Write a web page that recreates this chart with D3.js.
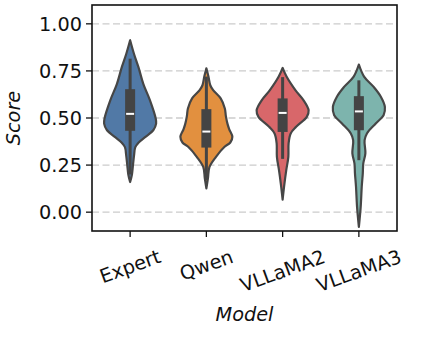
<!DOCTYPE html>
<html><head><meta charset="utf-8">
<script src="https://cdn.jsdelivr.net/npm/d3@7"></script>
<style>body{margin:0;background:#fff}svg{display:block;font-family:"DejaVu Sans",sans-serif}</style>
</head><body><svg id="c" width="421" height="342"></svg>
<script>
const categories = ["Expert","Qwen","VLLaMA2","VLLaMA3"];
const colors = ["#5179a6","#e2903f","#d8676a","#7db4ad"];
const yTicks = [0, 0.25, 0.5, 0.75, 1.0];
// violin outlines: score levels and half-width (density, relative 0..1)
const expertLevels = [0.16,0.2,0.25,0.30,0.345,0.37,0.40,0.435,0.47,0.50,0.595,0.68,0.77,0.84,0.913];
const expertDensity = [0,0.07,0.11,0.15,0.2,0.33,0.59,0.89,1.0,0.98,0.76,0.51,0.32,0.15,0];
const qwenLevels = [0.126,0.18,0.24,0.294,0.347,0.37,0.40,0.44,0.47,0.51,0.55,0.604,0.648,0.674,0.72,0.764];
const qwenDensity = [0,0.06,0.12,0.37,0.7,0.92,1.0,0.88,0.81,0.75,0.71,0.55,0.26,0.15,0.08,0];
const llama2Levels = [0.067,0.152,0.223,0.294,0.365,0.418,0.453,0.506,0.54,0.595,0.648,0.72,0.766];
const llama2Density = [0,0.07,0.14,0.22,0.23,0.31,0.52,0.93,1.0,0.8,0.49,0.15,0];
const llama3Levels = [-0.078,0.028,0.134,0.205,0.259,0.312,0.382,0.418,0.471,0.515,0.559,0.612,0.665,0.72,0.784];
const llama3Density = [0,0.07,0.11,0.15,0.17,0.25,0.22,0.31,0.65,0.95,1.0,0.85,0.57,0.2,0];
// box stats: [whiskerLow, q1, median, q3, whiskerHigh]
const expertBox = [0.2,0.432,0.522,0.653,0.815];
const qwenBox = [0.17,0.343,0.428,0.547,0.72];
const llama2Box = [0.283,0.426,0.527,0.604,0.717];
const llama3Box = [0.276,0.435,0.535,0.616,0.70];

const levels = [expertLevels,qwenLevels,llama2Levels,llama3Levels];
const dens = [expertDensity,qwenDensity,llama2Density,llama3Density];
const boxes = [expertBox,qwenBox,llama2Box,llama3Box];

const svg = d3.select("#c");
const L=92,R=397,T=5,B=231;
const x = d3.scaleBand().domain(categories).range([L,R]);
const y = d3.scaleLinear().domain([-0.1,1.1]).range([B,T]);
const w = d3.scaleLinear().domain([0,1]).range([0,26.0]);
const FS=19.3;

// grid
svg.append("g").selectAll("line").data(yTicks).join("line")
 .attr("x1",L).attr("x2",R).attr("y1",d=>y(d)).attr("y2",d=>y(d))
 .attr("stroke","#cccccc").attr("stroke-width",1.4).attr("stroke-dasharray","7,3.5");

// violins
categories.forEach((c,i)=>{
  const cx = x(c)+x.bandwidth()/2;
  const pts = levels[i].map((v,j)=>({v, d:dens[i][j]}));
  const area = d3.area().y(p=>y(p.v)).x0(p=>cx-w(p.d)).x1(p=>cx+w(p.d)).curve(d3.curveCatmullRom.alpha(0.5));
  svg.append("path").attr("d",area(pts)).attr("fill",colors[i]).attr("stroke","#464646").attr("stroke-width",2.2).attr("stroke-linejoin","round");
  const b = boxes[i];
  svg.append("line").attr("x1",cx).attr("x2",cx).attr("y1",y(b[0])).attr("y2",y(b[4])).attr("stroke","#444444").attr("stroke-width",3);
  svg.append("rect").attr("x",cx-5).attr("width",10).attr("y",y(b[3])).attr("height",y(b[1])-y(b[3])).attr("fill","#444444");
  svg.append("rect").attr("x",cx-4).attr("width",8).attr("y",y(b[2])-1).attr("height",2).attr("fill","#ffffff");
});

// frame
svg.append("rect").attr("x",L).attr("y",T).attr("width",R-L).attr("height",B-T).attr("fill","none").attr("stroke","#111").attr("stroke-width",1.6);

// y axis
const ya = svg.append("g");
yTicks.forEach(t=>{
  ya.append("line").attr("x1",L-6).attr("x2",L).attr("y1",y(t)).attr("y2",y(t)).attr("stroke","#111").attr("stroke-width",1.3);
  ya.append("text").attr("x",L-10).attr("y",y(t)).attr("dy","0.36em").attr("text-anchor","end").attr("font-size",FS).attr("fill","#111").text(t.toFixed(2));
});
svg.append("text").attr("transform",`translate(20,${(T+B)/2}) rotate(-90)`).attr("text-anchor","middle").attr("font-size",FS).attr("font-style","italic").attr("fill","#111").text("Score");

// x axis
const ang = 20*Math.PI/180;
categories.forEach(c=>{
  const cx = x(c)+x.bandwidth()/2;
  svg.append("line").attr("x1",cx).attr("x2",cx).attr("y1",B).attr("y2",B+6).attr("stroke","#111").attr("stroke-width",1.3);
  const t = svg.append("text").attr("text-anchor","middle").attr("dy","0.35em").attr("font-size",FS).attr("fill","#111").text(c);
  const tw = t.node().getComputedTextLength();
  const th = FS*0.95;
  const cy = 247 + (tw*Math.sin(ang)+th*Math.cos(ang))/2;
  t.attr("transform",`translate(${cx},${cy}) rotate(-20)`);
});
svg.append("text").attr("x",(L+R)/2).attr("y",321).attr("text-anchor","middle").attr("font-size",FS).attr("font-style","italic").attr("fill","#111").text("Model");
</script></body></html>
